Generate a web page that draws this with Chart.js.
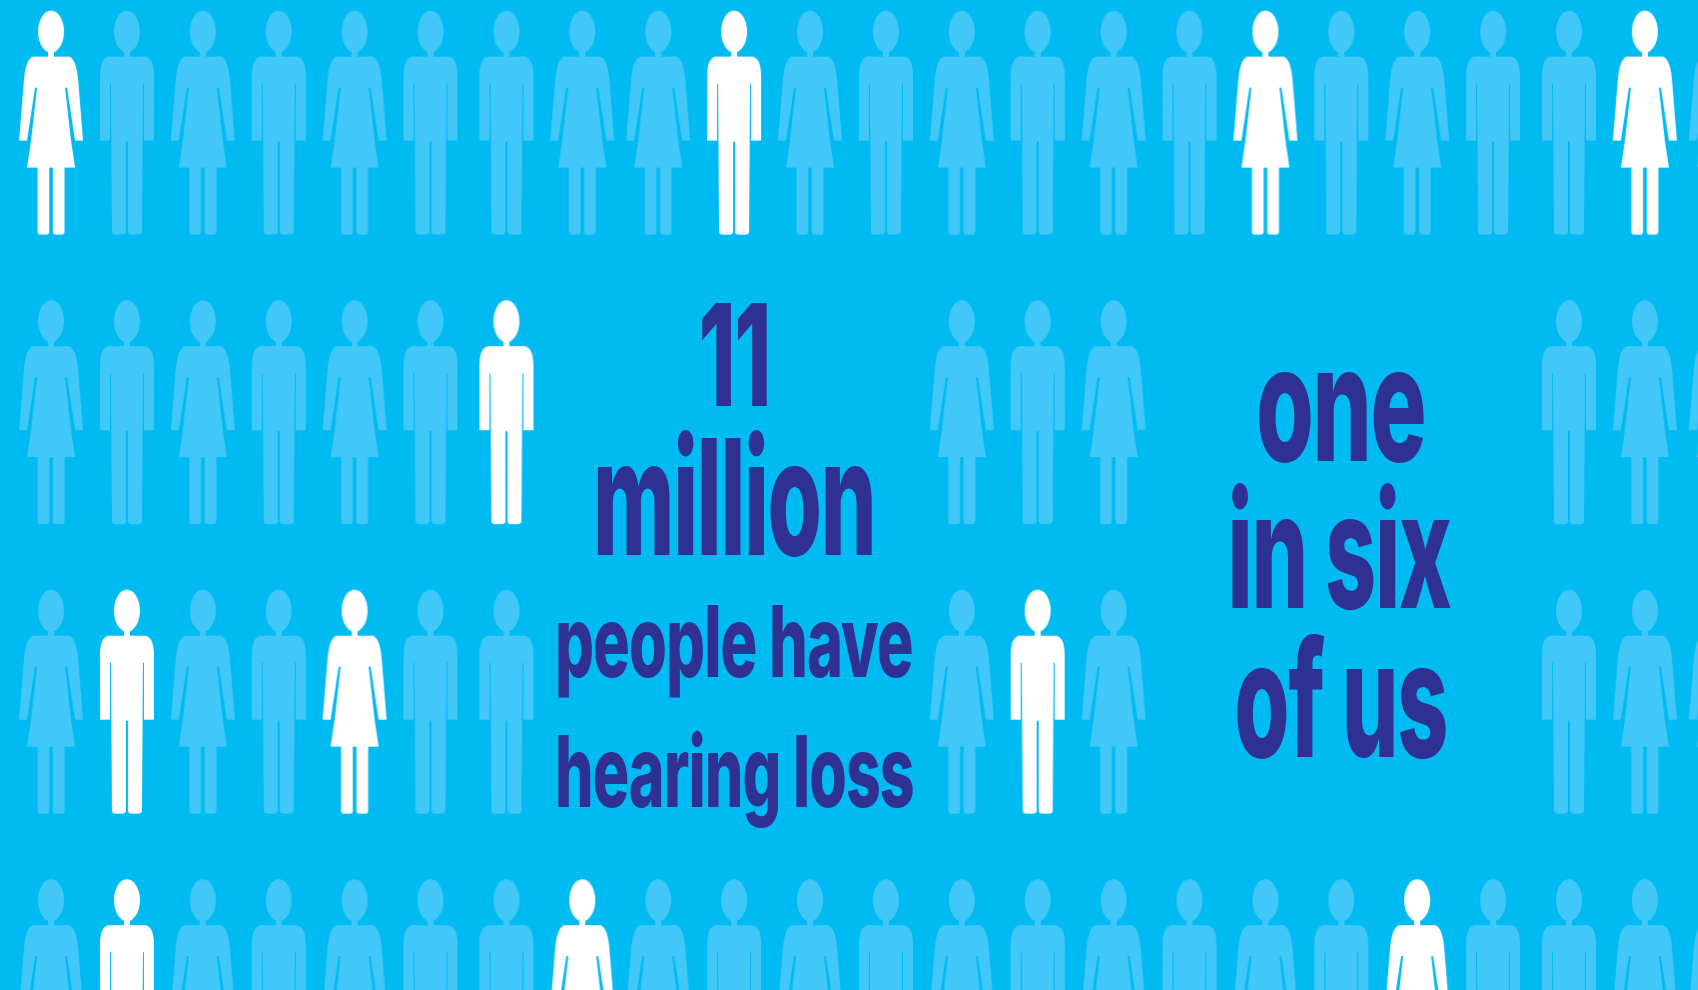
<!DOCTYPE html>
<html>
<head>
<meta charset="utf-8">
<title>11 million people have hearing loss</title>
<script src="https://cdn.jsdelivr.net/npm/chart.js@4"></script>
<style>
  html, body { margin: 0; padding: 0; background: #00baf2; overflow: hidden; }
  canvas { display: block; }
</style>
</head>
<body>
<canvas id="peopleChart" width="1698" height="990"></canvas>
<script>
// w = woman, m = man, one entry per column of the grid
const columnPeople = ['w','m','w','m','w','m','m','w','w','m','w','m','w','m','w','m','w','m','w','m','m','w','w'];
const rows = [0, 1, 2, 3];
// columns left empty in each row (the text sits there)
const emptyColumns = [[], [7,8,9,10,11,15,16,17,18,19], [7,8,9,10,11,15,16,17,18,19], []];
// the people with hearing loss
const highlighted = [[0,9,16,21], [6], [1,4,13], [1,7,18]];
const middleLines = ['11', 'million', 'people have', 'hearing loss'];
const rightLines = ['one', 'in six', 'of us'];

const paleColor = '#41c8f8';
const whiteColor = '#ffffff';
const textColor = '#2e3192';

function drawHead(c, cx) {
  c.beginPath();
  c.ellipse(cx, 21, 13, 21, 0, 0, Math.PI * 2);
  c.fill();
  c.fillRect(cx - 3, 40, 6, 8);
}

function drawMan(c, cx) {
  drawHead(c, cx);
  c.beginPath();
  c.moveTo(cx - 18, 46);
  c.lineTo(cx + 18, 46);
  c.quadraticCurveTo(cx + 27, 47, cx + 27, 66);
  c.lineTo(cx + 27, 130);
  c.lineTo(cx + 17, 130);
  c.lineTo(cx + 17, 73);
  c.lineTo(cx + 16, 73);
  c.lineTo(cx + 15, 221);
  c.quadraticCurveTo(cx + 15, 224, cx + 11, 224);
  c.lineTo(cx + 5, 224);
  c.quadraticCurveTo(cx + 1, 224, cx + 1, 221);
  c.lineTo(cx + 1, 131);
  c.lineTo(cx - 1, 131);
  c.lineTo(cx - 1, 221);
  c.quadraticCurveTo(cx - 1, 224, cx - 5, 224);
  c.lineTo(cx - 11, 224);
  c.quadraticCurveTo(cx - 15, 224, cx - 15, 221);
  c.lineTo(cx - 16, 73);
  c.lineTo(cx - 17, 73);
  c.lineTo(cx - 17, 130);
  c.lineTo(cx - 27, 130);
  c.lineTo(cx - 27, 66);
  c.quadraticCurveTo(cx - 27, 47, cx - 18, 46);
  c.fill();
}

function drawWoman(c, cx) {
  drawHead(c, cx);
  c.beginPath();
  c.moveTo(cx - 18, 46);
  c.lineTo(cx + 18, 46);
  c.quadraticCurveTo(cx + 25, 48, cx + 27, 68);
  c.lineTo(cx + 32, 130);
  c.lineTo(cx + 24, 130);
  c.lineTo(cx + 16, 77);
  c.lineTo(cx + 14, 77);
  c.lineTo(cx + 20, 130);
  c.lineTo(cx + 24, 157);
  c.lineTo(cx - 24, 157);
  c.lineTo(cx - 20, 130);
  c.lineTo(cx - 14, 77);
  c.lineTo(cx - 16, 77);
  c.lineTo(cx - 24, 130);
  c.lineTo(cx - 32, 130);
  c.lineTo(cx - 27, 68);
  c.quadraticCurveTo(cx - 25, 48, cx - 18, 46);
  c.fill();
  // legs
  [[-13.5, -1.8], [1.8, 13.5]].forEach(leg => {
    c.beginPath();
    c.roundRect(cx + leg[0], 155, leg[1] - leg[0], 69, [0, 0, 3, 3]);
    c.fill();
  });
}

function makeIcon(type, color) {
  const icon = document.createElement('canvas');
  icon.width = 80;
  icon.height = 232;
  const c = icon.getContext('2d');
  c.fillStyle = color;
  c.filter = 'blur(0.7px)'; // the source picture is soft
  c.translate(0, 4);
  if (type === 'w') drawWoman(c, 40);
  else drawMan(c, 40);
  return icon;
}

const icons = {
  w: makeIcon('w', paleColor),
  m: makeIcon('m', paleColor),
  wHi: makeIcon('w', whiteColor),
  mHi: makeIcon('m', whiteColor)
};

const points = [];
rows.forEach(row => {
  columnPeople.forEach((type, col) => {
    if (emptyColumns[row].includes(col)) return;
    const hi = highlighted[row].includes(col);
    points.push({ x: col, y: row, icon: icons[type + (hi ? 'Hi' : '')] });
  });
});

// squeeze a line so its ink runs from left to right, the source artwork is narrow
function squeezedText(c, text, left, right, baseline, size) {
  c.save();
  c.font = '800 ' + size + 'px Inter';
  c.letterSpacing = (-size * 0.015) + 'px';
  c.textAlign = 'left';
  c.textBaseline = 'alphabetic';
  c.fillStyle = textColor;
  c.filter = 'blur(0.6px)';
  const m = c.measureText(text);
  const ink = m.actualBoundingBoxLeft + m.actualBoundingBoxRight;
  const sx = (right - left) / ink;
  c.translate(left + m.actualBoundingBoxLeft * sx, baseline);
  c.scale(sx, 1);
  c.fillText(text, 0, 0);
  c.restore();
}

const textPlugin = {
  id: 'bigText',
  afterDatasetsDraw(chart) {
    const c = chart.ctx;
    squeezedText(c, middleLines[0], 702, 767, 406, 142);
    squeezedText(c, middleLines[1], 598, 872, 555, 161);
    squeezedText(c, middleLines[2], 558, 912, 677, 99);
    squeezedText(c, middleLines[3], 558, 913, 807, 99);
    squeezedText(c, rightLines[0], 1259, 1424, 461, 161);
    squeezedText(c, rightLines[1], 1232, 1451, 608, 161);
    squeezedText(c, rightLines[2], 1237, 1446, 757, 161);
  }
};

new Chart(document.getElementById('peopleChart'), {
  type: 'scatter',
  data: {
    datasets: [{
      data: points,
      clip: false,
      pointRadius: 120,
      pointHoverRadius: 120,
      pointStyle: ctx => ctx.raw.icon
    }]
  },
  options: {
    responsive: false,
    animation: false,
    events: [],
    layout: { padding: 0, autoPadding: false },
    plugins: { legend: { display: false }, tooltip: { enabled: false } },
    scales: {
      x: { type: 'linear', display: false, min: -0.672, max: 21.7 },
      y: { type: 'linear', display: false, reverse: true, min: -0.4235, max: 2.996 }
    }
  },
  plugins: [textPlugin]
});
</script>
</body>
</html>
